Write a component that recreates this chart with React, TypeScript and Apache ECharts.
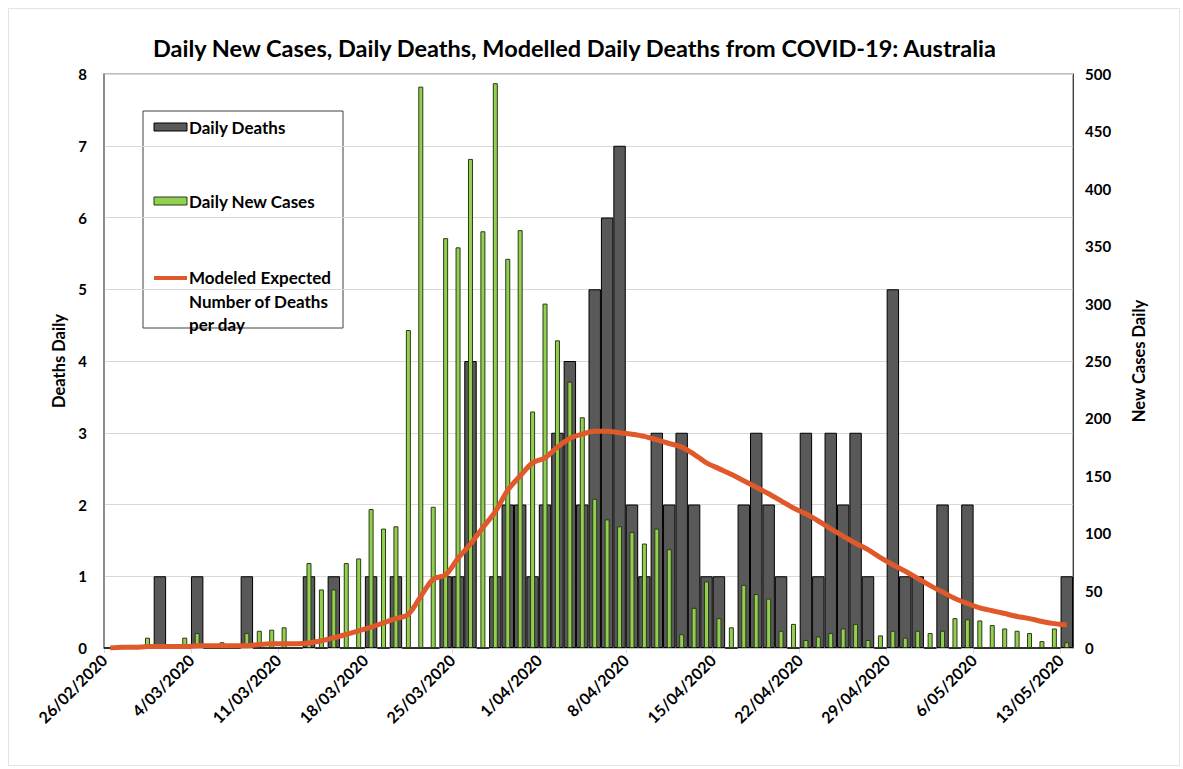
import React, { useEffect, useRef } from "react";
import * as echarts from "echarts";

// 78 daily categories: 26/02/2020 .. 13/05/2020
const START_DAY = 26; // 26 Feb 2020
const DAY_COUNT = 78;
function fmtDate(i: number): string {
  const d = new Date(2020, 1, START_DAY + i);
  return `${d.getDate()}/${String(d.getMonth() + 1).padStart(2, "0")}/${d.getFullYear()}`;
}
const dates: string[] = Array.from({ length: DAY_COUNT }, (_, i) => fmtDate(i));
// tick-label axis has one extra boundary point so labels sit on category boundaries
const tickDates: string[] = Array.from({ length: DAY_COUNT + 1 }, (_, i) => fmtDate(i));

const dailyDeaths: number[] = [
  0, 0, 0, 0, 1, 0, 0, 1, 0, 0,
  0, 1, 0, 0, 0, 0, 1, 0, 1, 0,
  0, 1, 0, 1, 0, 0, 0, 1, 1, 4,
  0, 1, 2, 2, 1, 2, 3, 4, 2, 5,
  6, 7, 2, 1, 3, 2, 3, 2, 1, 1,
  0, 2, 3, 2, 1, 0, 3, 1, 3, 2,
  3, 1, 0, 5, 1, 1, 0, 2, 0, 2,
  0, 0, 0, 0, 0, 0, 0, 1,
];

const dailyCases: number[] = [
  0, 0, 0, 9, 0, 0, 9, 13, 0, 5,
  0, 13, 15, 16, 18, 0, 74, 51, 51, 74,
  78, 121, 104, 106, 277, 489, 123, 357, 349, 426,
  363, 492, 339, 364, 206, 300, 268, 232, 201, 130,
  112, 106, 101, 91, 104, 86, 12, 35, 58, 26,
  18, 55, 47, 43, 15, 21, 7, 10, 13, 17,
  21, 7, 11, 15, 9, 15, 13, 15, 26, 25,
  24, 20, 17, 15, 13, 6, 17, 5,
];

const modeledDeaths: number[] = [
  0.0, 0.01, 0.01, 0.02, 0.02, 0.02, 0.02, 0.03, 0.03, 0.03,
  0.03, 0.03, 0.05, 0.06, 0.06, 0.06, 0.07, 0.1, 0.14, 0.19,
  0.24, 0.29, 0.35, 0.41, 0.47, 0.72, 0.96, 1.02, 1.25, 1.45,
  1.68, 1.9, 2.2, 2.4, 2.58, 2.65, 2.8, 2.92, 2.98, 3.02,
  3.02, 3.0, 2.98, 2.95, 2.9, 2.85, 2.8, 2.7, 2.58, 2.5,
  2.42, 2.33, 2.24, 2.15, 2.05, 1.95, 1.87, 1.77, 1.66, 1.56,
  1.46, 1.37, 1.26, 1.16, 1.07, 0.97, 0.87, 0.78, 0.69, 0.62,
  0.56, 0.52, 0.48, 0.44, 0.41, 0.37, 0.34, 0.32,
];

const FONT = "Lato, 'Open Sans', sans-serif";
const DARK = "#595959";
const GREEN = "#92D050";
const ORANGE = "#E0592A";

export default function App() {
  const ref = useRef<HTMLDivElement>(null);
  useEffect(() => {
    if (!ref.current) return;
    const chart = echarts.init(ref.current, undefined, { renderer: "svg" });
    const legendX = 143;
    const legendY = 111;
    chart.setOption({
      animation: false,
      backgroundColor: "#fff",
      textStyle: { fontFamily: FONT },
      title: {
        text: "Daily New Cases, Daily Deaths, Modelled Daily Deaths from COVID-19: Australia",
        left: 148,
        top: 31,
        textStyle: { fontFamily: FONT, fontWeight: "bold", fontSize: 23.5, color: "#000" },
      },
      grid: {
        left: 104,
        right: 110,
        top: 74,
        bottom: 121,
        show: true,
        borderColor: "#7f7f7f",
        borderWidth: 1.2,
        backgroundColor: "transparent",
      },
      xAxis: [
        {
          type: "category",
          data: dates,
          boundaryGap: true,
          position: "bottom",
          axisLine: { show: true, lineStyle: { color: "#bfbfbf" } },
          axisTick: { show: false },
          axisLabel: { show: false },
          splitLine: { show: false },
        },
        {
          type: "category",
          data: dates,
          boundaryGap: true,
          position: "bottom",
          show: false,
        },
        {
          type: "category",
          data: tickDates,
          boundaryGap: false,
          position: "bottom",
          axisLine: { show: false },
          axisTick: { show: true, interval: 6, length: 5, lineStyle: { color: "#d9d9d9" } },
          axisLabel: {
            interval: 6,
            rotate: 45,
            margin: 9,
            fontFamily: FONT,
            fontWeight: "bold",
            fontSize: 16,
            color: "#000",
          },
          splitLine: { show: false },
        },
      ],
      yAxis: [
        {
          type: "value",
          min: 0,
          max: 8,
          interval: 1,
          name: "Deaths Daily",
          nameLocation: "middle",
          nameRotate: 90,
          nameGap: 29,
          nameTextStyle: { fontFamily: FONT, fontWeight: "bold", fontSize: 16.5, color: "#000" },
          axisLine: { show: true, lineStyle: { color: "#808080", width: 1.5 } },
          axisTick: { show: false },
          axisLabel: { fontFamily: FONT, fontWeight: "bold", fontSize: 15, color: "#000", margin: 17 },
          splitLine: { show: true, lineStyle: { color: "#d9d9d9", width: 1 } },
        },
        {
          type: "value",
          min: 0,
          max: 500,
          interval: 50,
          position: "right",
          name: "New Cases Daily",
          nameLocation: "middle",
          nameRotate: 90,
          nameGap: 57,
          nameTextStyle: { fontFamily: FONT, fontWeight: "bold", fontSize: 16.5, color: "#000" },
          axisLine: { show: true, lineStyle: { color: "#404040", width: 1 } },
          axisTick: { show: false },
          axisLabel: { fontFamily: FONT, fontWeight: "bold", fontSize: 15, color: "#000", margin: 12 },
          splitLine: { show: false },
        },
      ],
      series: [
        {
          name: "Daily Deaths",
          type: "bar",
          xAxisIndex: 0,
          yAxisIndex: 0,
          data: dailyDeaths,
          barCategoryGap: "0%",
          itemStyle: { color: DARK, borderColor: "#000", borderWidth: 1 },
          z: 2,
        },
        {
          name: "Daily New Cases",
          type: "bar",
          xAxisIndex: 1,
          yAxisIndex: 1,
          data: dailyCases,
          barWidth: 5,
          itemStyle: { color: GREEN, borderColor: "#2b3a1a", borderWidth: 1 },
          z: 3,
        },
        {
          name: "Modeled Expected Number of Deaths per day",
          type: "line",
          xAxisIndex: 0,
          yAxisIndex: 0,
          data: modeledDeaths,
          showSymbol: false,
          symbol: "none",
          smooth: 0.3,
          lineStyle: { color: ORANGE, width: 5 },
          z: 4,
        },
      ],
      graphic: [
        {
          type: "rect",
          left: 6,
          top: 6,
          shape: { x: 0, y: 0, width: 1171, height: 757 },
          style: { fill: "none", stroke: "#e3e3e3", lineWidth: 1 },
          silent: true,
          z: 0,
        },
        {
          type: "group",
          x: legendX,
          y: legendY,
          z: 100,
          children: [
            {
              type: "rect",
              shape: { x: 0, y: 0, width: 200, height: 217 },
              style: { fill: "#fff", stroke: "#404040", lineWidth: 1 },
            },
            {
              type: "rect",
              shape: { x: 11, y: 12, width: 33, height: 8 },
              style: { fill: DARK, stroke: "#000", lineWidth: 1 },
            },
            {
              type: "text",
              x: 46,
              y: 16,
              style: {
                text: "Daily Deaths",
                fontFamily: FONT,
                fontWeight: "bold",
                fontSize: 17,
                fill: "#000",
                verticalAlign: "middle",
              },
            },
            {
              type: "rect",
              shape: { x: 11, y: 86, width: 33, height: 8 },
              style: { fill: GREEN, stroke: "#2b3a1a", lineWidth: 1 },
            },
            {
              type: "text",
              x: 46,
              y: 90,
              style: {
                text: "Daily New Cases",
                fontFamily: FONT,
                fontWeight: "bold",
                fontSize: 17,
                fill: "#000",
                verticalAlign: "middle",
              },
            },
            {
              type: "line",
              shape: { x1: 11, y1: 167, x2: 44, y2: 167 },
              style: { stroke: ORANGE, lineWidth: 4 },
            },
            {
              type: "text",
              x: 46,
              y: 155,
              style: {
                text: "Modeled Expected\nNumber of Deaths\nper day",
                fontFamily: FONT,
                fontWeight: "bold",
                fontSize: 17,
                lineHeight: 23.5,
                fill: "#000",
                verticalAlign: "top",
              },
            },
          ],
        },
      ],
    });
    return () => chart.dispose();
  }, []);
  return (
    <div
      ref={ref}
      style={{ position: "fixed", left: 0, top: 0, width: 1183, height: 769 }}
    />
  );
}
